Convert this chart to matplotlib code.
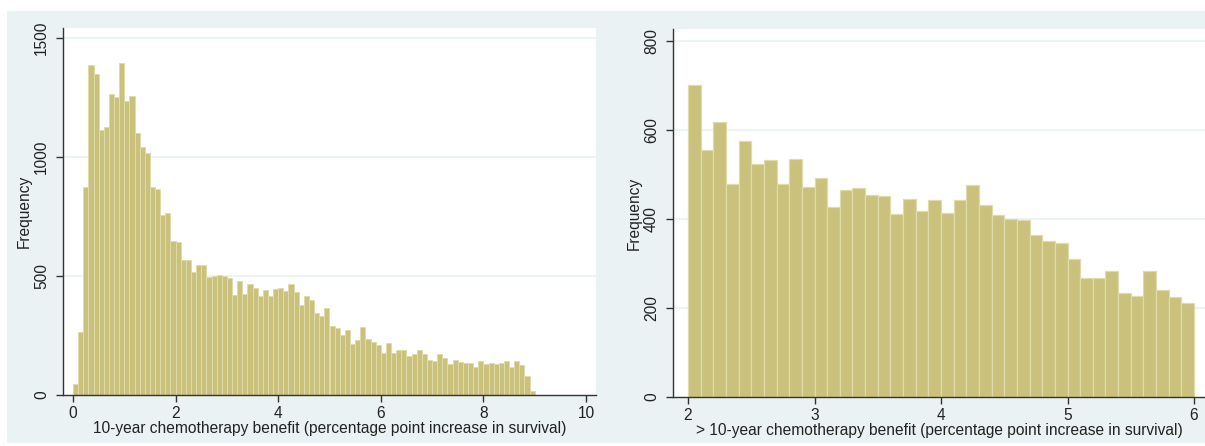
import numpy as np
import matplotlib
matplotlib.use("Agg")
import matplotlib.pyplot as plt
from matplotlib.patches import Rectangle

plt.rcParams['font.family'] = ['Liberation Sans', 'DejaVu Sans']

# left histogram: 10-year benefit, bins of 0.1 starting at 0
left_start = 0.0
left_width = 0.1
left_counts = [47, 265, 875, 1388, 1350, 1114, 1128, 1264, 1253, 1394,
               1237, 1257, 1100, 1042, 1015, 875, 864, 756, 766, 648,
               642, 567, 567, 518, 545, 545, 497, 502, 506, 498,
               490, 420, 480, 426, 465, 448, 415, 443, 415, 445,
               448, 437, 465, 431, 377, 415, 399, 345, 334, 367,
               291, 280, 254, 275, 216, 232, 286, 237, 221, 210,
               178, 220, 176, 187, 191, 165, 172, 187, 172, 149,
               144, 171, 155, 132, 149, 139, 135, 135, 117, 142,
               129, 133, 129, 136, 142, 117, 143, 127, 79, 15]
left_xticks = [0, 2, 4, 6, 8, 10]
left_yticks = [0, 500, 1000, 1500]
left_xlabel = "10-year chemotherapy benefit (percentage point increase in survival)"

# right histogram: > 10-year benefit, bins of 0.1 starting at 2
right_start = 2.0
right_width = 0.1
right_counts = [701, 555, 618, 478, 575, 523, 532, 478, 535, 472,
                492, 428, 466, 469, 455, 452, 411, 446, 417, 443,
                414, 443, 477, 431, 408, 400, 397, 363, 351, 345,
                310, 268, 268, 284, 233, 227, 284, 241, 224, 212]
right_xticks = [2, 3, 4, 5, 6]
right_yticks = [0, 200, 400, 600, 800]
right_xlabel = "> 10-year chemotherapy benefit (percentage point increase in survival)"

bar_fill = '#c9c17c'
bar_edge = '#e0dcaa'
bg = '#eaf2f3'
axis_col = '#333333'
fs = 11.2

W, H = 1205, 446
fig = plt.figure(figsize=(W / 100, H / 100), dpi=100)
fig.patch.set_facecolor('white')
# graph region (light bluish), kept behind the axes
fig.patches.append(Rectangle((7 / W, 3 / H), 1198 / W, 432 / H,
                             transform=fig.transFigure, facecolor=bg,
                             edgecolor='none', zorder=-10))


def px_axes(x0, x1, ytop, ybot):
    return fig.add_axes([x0 / W, (H - ybot) / H, (x1 - x0) / W, (ybot - ytop) / H])


def style(ax, xticks, yticks, xlabel):
    ax.set_facecolor('white')
    for s in ['top', 'right']:
        ax.spines[s].set_visible(False)
    for s in ['left', 'bottom']:
        ax.spines[s].set_color(axis_col)
        ax.spines[s].set_linewidth(1.0)
    ax.set_xticks(xticks)
    ax.set_yticks(yticks)
    ax.set_yticklabels([str(v) for v in yticks], rotation=90, va='center')
    ax.tick_params(axis='both', direction='out', length=5, width=1.0,
                   colors=axis_col, labelcolor='#222222', labelsize=fs)
    ax.tick_params(axis='x', pad=3)
    ax.tick_params(axis='y', pad=5)
    for v in yticks[1:]:
        ax.axhline(v, color=bg, linewidth=1.2, zorder=0.5)
    ax.set_xlabel(xlabel, fontsize=fs, color='#222222', labelpad=0)
    ax.set_ylabel("Frequency", fontsize=fs, color='#222222', labelpad=2)


# left panel
ax1 = px_axes(63, 596, 28, 395)
edges1 = left_start + left_width * np.arange(len(left_counts))
ax1.bar(edges1, left_counts, width=left_width, align='edge', color=bar_fill,
        edgecolor=bar_edge, linewidth=0.7, zorder=2)
ax1.set_xlim(-0.195, 10.195)
ax1.set_ylim(0, 1542)
style(ax1, left_xticks, left_yticks, left_xlabel)

# right panel
ax2 = px_axes(673, 1205, 29, 397)
edges2 = right_start + right_width * np.arange(len(right_counts))
ax2.bar(edges2, right_counts, width=right_width, align='edge', color=bar_fill,
        edgecolor=bar_edge, linewidth=0.9, zorder=2)
ax2.set_xlim(1.881, 6.087)
ax2.set_ylim(0, 827)
style(ax2, right_xticks, right_yticks, right_xlabel)

fig.savefig("out.png", dpi=100, facecolor=fig.get_facecolor())
